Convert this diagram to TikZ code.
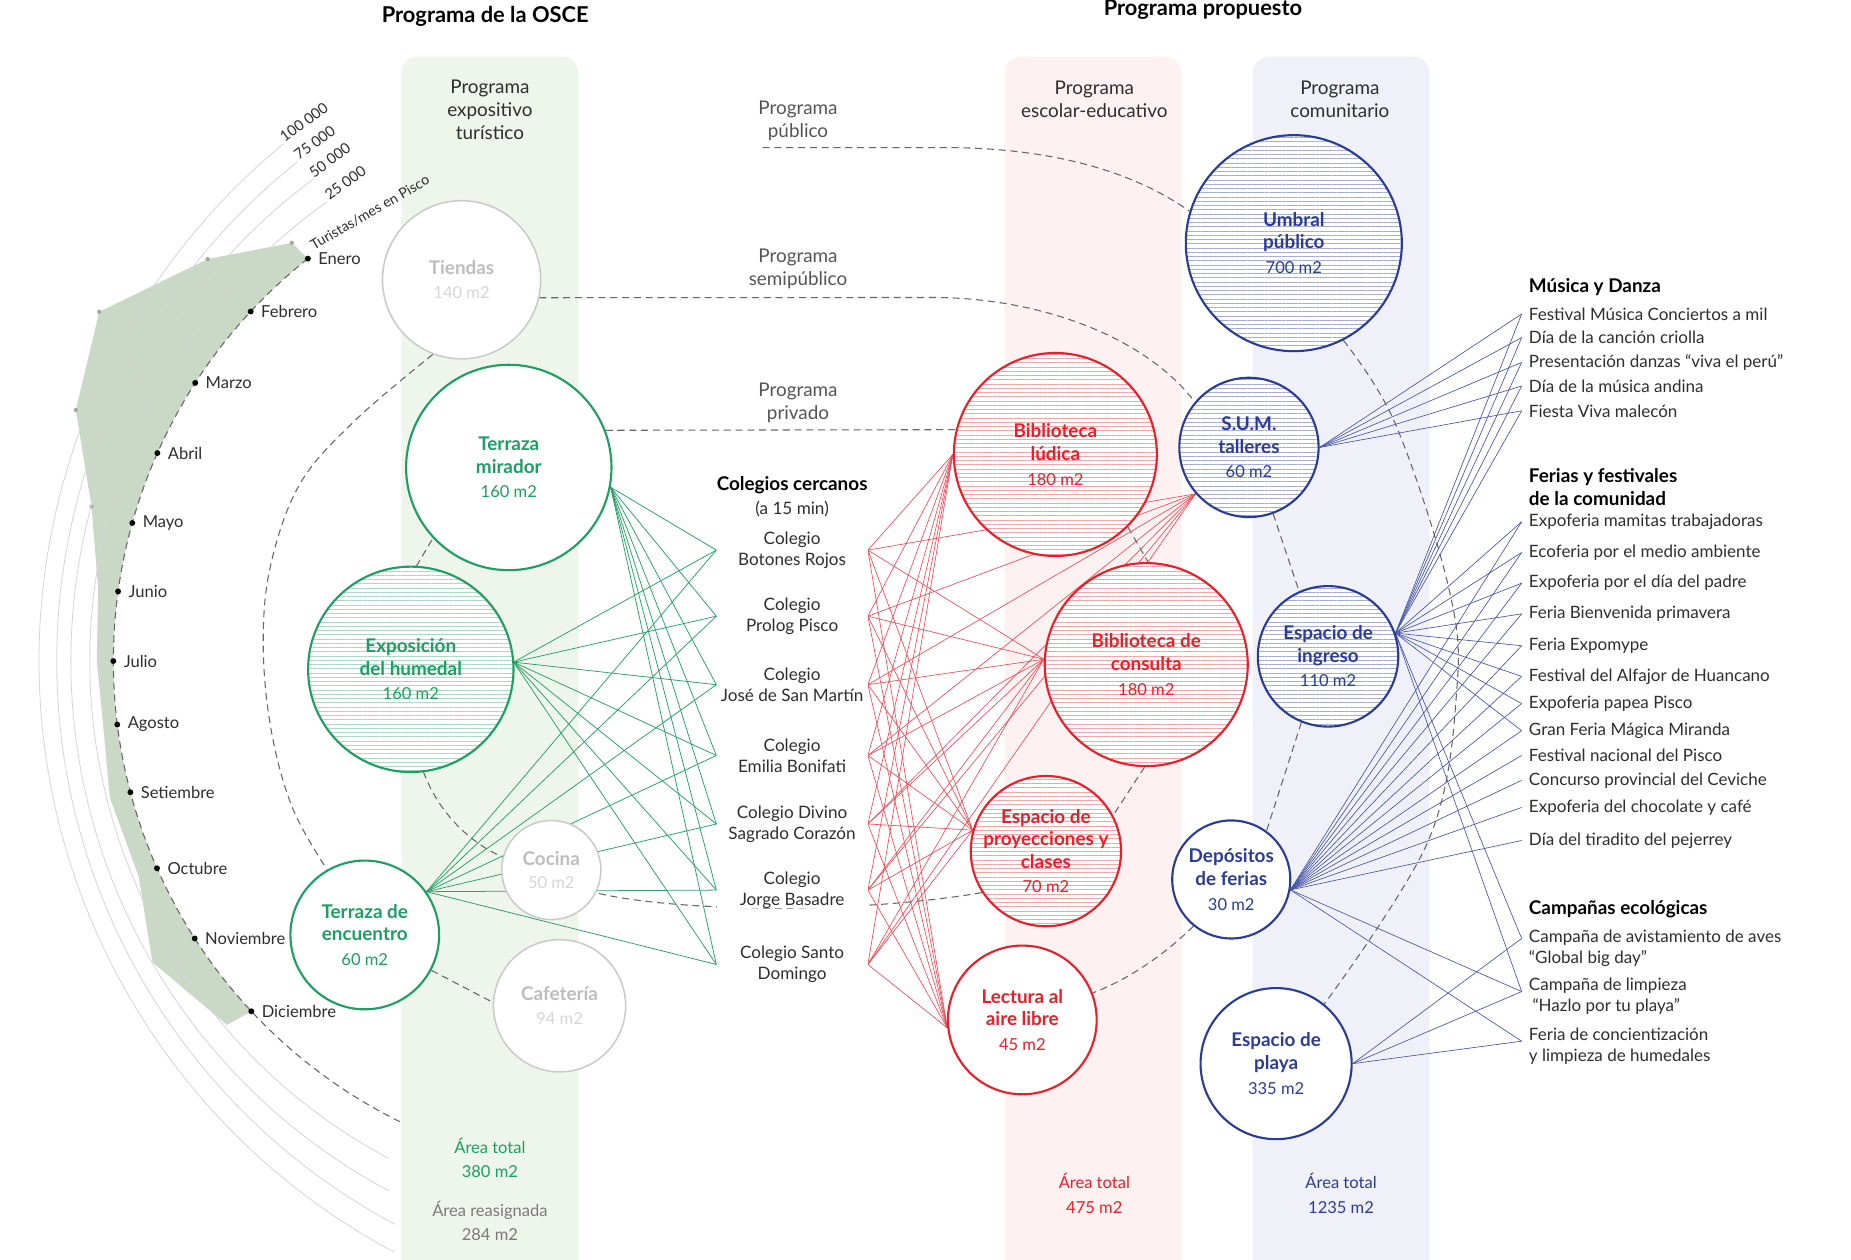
\documentclass[tikz,border=0pt]{standalone}
\usepackage{fontspec}
\setmainfont{Lato}
\usetikzlibrary{patterns.meta}
\definecolor{cgreen}{HTML}{1E9E62}
\definecolor{cred}{HTML}{E6202B}
\definecolor{cblue}{HTML}{2A3C94}
\definecolor{cgray}{HTML}{CACACA}
\definecolor{cgraytxt}{HTML}{BDBDBD}
\definecolor{cgraylt}{HTML}{D6D6D6}
\definecolor{bandg}{HTML}{EEF6EB}
\definecolor{bandr}{HTML}{FDF1F1}
\definecolor{bandb}{HTML}{F0F1F8}
\definecolor{sage}{HTML}{C9D9C6}
\definecolor{hg}{HTML}{ACD6BF}
\definecolor{hr}{HTML}{F4A2A6}
\definecolor{hb}{HTML}{A3ACD6}
\definecolor{txt}{HTML}{2E2E2E}
\definecolor{soft}{HTML}{555555}
\definecolor{ringc}{HTML}{666666}
\definecolor{arcc}{HTML}{D6D6D6}
\definecolor{vdotc}{HTML}{9DAA9B}
\definecolor{lg}{HTML}{2AA166}
\definecolor{lr}{HTML}{EC4A57}
\definecolor{lb}{HTML}{4454A4}
\definecolor{areagray}{HTML}{7A7A7A}
\pgfdeclarelayer{back}
\pgfdeclarelayer{mid}
\pgfsetlayers{back,mid,main}
\newcommand\rtitle[1]{{\bfseries\fontsize{16}{19}\selectfont #1}}
\tikzset{
  room/.style={circle, minimum size=#1, inner sep=0pt, line width=1.8pt, fill=white, align=center, font=\fontsize{14}{19}\selectfont},
  hatch/.style={preaction={fill=white}, pattern={Lines[angle=0,distance=3.6pt,line width=0.65pt]}, pattern color=#1},
  groom/.style={room=#1, draw=cgreen, text=cgreen},
  rroom/.style={room=#1, draw=cred, text=cred},
  broom/.style={room=#1, draw=cblue, text=cblue},
  kroom/.style={room=#1, draw=cgray, text=cgraytxt, line width=1.3pt},
  hdr/.style={align=center, inner sep=0pt, text=txt, font=\fontsize{16}{19.5}\selectfont},
  ttl/.style={inner sep=0pt, text=black, font=\bfseries\fontsize{18.5}{21}\selectfont},
  col/.style={align=center, inner sep=0pt, minimum width=128pt, fill=white, text=txt, font=\fontsize{14.5}{17.5}\selectfont},
  item/.style={anchor=west, inner xsep=6pt, inner ysep=0pt, align=left, text=txt, font=\fontsize{14.4}{18}\selectfont},
  lhead/.style={anchor=west, inner sep=0pt, align=left, text=black, font=\bfseries\fontsize{16}{19.5}\selectfont},
  month/.style={anchor=west, inner sep=0pt, xshift=6pt, text=txt, font=\fontsize{14}{16}\selectfont},
  mdot/.style={circle, fill=black, inner sep=0pt, minimum size=5pt},
  arclab/.style={anchor=base west, inner sep=0pt, text=txt, font=\fontsize{12.5}{14}\selectfont},
  ring/.style={draw=ringc, line width=0.9pt, dash pattern=on 6pt off 4pt},
  arcline/.style={draw=arcc, line width=0.7pt},
  gl/.style={draw=lg, line width=0.65pt},
  rl/.style={draw=lr, line width=0.55pt},
  bl/.style={draw=lb, line width=0.55pt},
}
\begin{document}
\begin{tikzpicture}[x=1pt,y=-1pt]
\useasboundingbox (0,0) rectangle (1568,1067);
\begin{pgfonlayer}{back}
\fill[white] (0,0) rectangle (1568,1067);
\fill[bandg, rounded corners=14pt] (340,48) rectangle (490,1090);
\fill[bandr, rounded corners=14pt] (851,48) rectangle (1001,1090);
\fill[bandb, rounded corners=14pt] (1061,48) rectangle (1211,1090);
\end{pgfonlayer}

% titles and headers
\node[ttl] (t1) at (411,14) {Programa de la OSCE};
\node[ttl] (t2) at (1019,8) {Programa propuesto};
\node[hdr] (hexp) at (415,93) {Programa\\expositivo\\turístico};
\node[hdr] (hesc) at (927,84) {Programa\\escolar-educativo};
\node[hdr] (hcom) at (1135,84) {Programa\\comunitario};
\node[hdr, text=soft] (lpub) at (676,102) {Programa\\público};
\node[hdr, text=soft] (lsemi) at (676,228) {Programa\\semipúblico};
\node[hdr, text=soft] (lpriv) at (676,341) {Programa\\privado};

% rooms
\node[kroom=134] (tiendas) at (391,237) {\rtitle{Tiendas}\\[1pt]\textcolor{cgraylt}{140 m2}};
\node[groom=174] (mirador) at (431,396) {\rtitle{Terraza}\\\rtitle{mirador}\\[2pt]160 m2};
\node[groom=174, hatch=hg] (humedal) at (348,567) {\rtitle{Exposición}\\\rtitle{del humedal}\\[2pt]160 m2};
\node[groom=126] (encuentro) at (309,792) {\rtitle{Terraza de}\\\rtitle{encuentro}\\[2pt]60 m2};
\node[kroom=84] (cocina) at (467,737) {\rtitle{Cocina}\\[1pt]\textcolor{cgraylt}{50 m2}};
\node[kroom=112] (cafeteria) at (474,852) {\rtitle{Cafetería}\\[1pt]\textcolor{cgraylt}{94 m2}};

\node[rroom=172, hatch=hr] (ludica) at (894,385) {\rtitle{Biblioteca}\\\rtitle{lúdica}\\[2pt]180 m2};
\node[rroom=172, hatch=hr] (consulta) at (971,563) {\rtitle{Biblioteca de}\\\rtitle{consulta}\\[2pt]180 m2};
\node[rroom=126, hatch=hr] (proyec) at (886,721) {\rtitle{Espacio de}\\\rtitle{proyecciones y}\\\rtitle{clases}\\[2pt]70 m2};
\node[rroom=126] (lectura) at (866,864) {\rtitle{Lectura al}\\\rtitle{aire libre}\\[2pt]45 m2};

\node[broom=183, hatch=hb] (umbral) at (1096,206) {\rtitle{Umbral}\\\rtitle{público}\\[2pt]700 m2};
\node[broom=118, hatch=hb] (sum) at (1058,379) {\rtitle{S.U.M.}\\\rtitle{talleres}\\[2pt]60 m2};
\node[broom=119, hatch=hb] (ingreso) at (1125,556) {\rtitle{Espacio de}\\\rtitle{ingreso}\\[2pt]110 m2};
\node[broom=100] (depositos) at (1043,745) {\rtitle{Depósitos}\\\rtitle{de ferias}\\[2pt]30 m2};
\node[broom=128] (playa) at (1081,901) {\rtitle{Espacio de}\\\rtitle{playa}\\[2pt]335 m2};

% colegios
\node[inner sep=0pt, text=black, font=\bfseries\fontsize{16}{19}\selectfont] (colh) at (671,411) {Colegios cercanos};
\node[hdr, font=\fontsize{14.5}{17}\selectfont] (colsub) at (671,431) {(a 15 min)};
\node[col] (c1) at (671,466) {Colegio\\Botones Rojos};
\node[col] (c2) at (671,522) {Colegio\\Prolog Pisco};
\node[col] (c3) at (671,580) {Colegio\\José de San Martín};
\node[col] (c4) at (671,640) {Colegio\\Emilia Bonifati};
\node[col] (c5) at (671,698) {Colegio Divino\\Sagrado Corazón};
\node[col] (c6) at (671,754) {Colegio\\Jorge Basadre};
\node[col] (c7) at (671,817) {Colegio Santo\\Domingo};

% right lists
\node[lhead] (hm) at (1295,243) {Música y Danza};
\node[item] (m1) at (1289,266) {Festival Música Conciertos a mil};
\node[item] (m2) at (1289,286) {Día de la canción criolla};
\node[item] (m3) at (1289,307) {Presentación danzas “viva el perú”};
\node[item] (m4) at (1289,327) {Día de la música andina};
\node[item] (m5) at (1289,348) {Fiesta Viva malecón};

\node[lhead] (hf) at (1295,412.5) {Ferias y festivales\\de la comunidad};
\node[item] (f1) at (1289,442) {Expoferia mamitas trabajadoras};
\node[item] (f2) at (1289,468) {Ecoferia por el medio ambiente};
\node[item] (f3) at (1289,494) {Expoferia por el día del padre};
\node[item] (f4) at (1289,520) {Feria Bienvenida primavera};
\node[item] (f5) at (1289,547) {Feria Expomype};
\node[item] (f6) at (1289,573) {Festival del Alfajor de Huancano};
\node[item] (f7) at (1289,596) {Expoferia papea Pisco};
\node[item] (f8) at (1289,619) {Gran Feria Mágica Miranda};
\node[item] (f9) at (1289,640) {Festival nacional del Pisco};
\node[item] (f10) at (1289,661) {Concurso provincial del Ceviche};
\node[item] (f11) at (1289,684) {Expoferia del chocolate y café};
\node[item] (f12) at (1289,712) {Día del tiradito del pejerrey};

\node[lhead] (hk) at (1295,770) {Campañas ecológicas};
\node[item] (k1) at (1289,803) {Campaña de avistamiento de aves\\“Global big day”};
\node[item] (k2) at (1289,844) {Campaña de limpieza\\\hspace{3pt}“Hazlo por tu playa”};
\node[item] (k3) at (1289,886) {Feria de concientización\\y limpieza de humedales};

% bottom areas
\node[hdr, text=cgreen, font=\fontsize{14}{20.5}\selectfont] (a1) at (415,981) {Área total\\380 m2};
\node[hdr, text=areagray, font=\fontsize{14}{20.5}\selectfont] (a2) at (415,1034) {Área reasignada\\284 m2};
\node[hdr, text=cred, font=\fontsize{14}{20.5}\selectfont] (a3) at (927,1011) {Área total\\475 m2};
\node[hdr, text=cblue, font=\fontsize{14}{20.5}\selectfont] (a4) at (1136,1011) {Área total\\1235 m2};

% months
\begin{scope}[shift={(531,560)}]
\foreach \a/\m [count=\i] in {128.4/Enero,137.1/Febrero,147.2/Marzo,156.1/Abril,164.4/Mayo,172.2/Junio,180/Julio,187.1/Agosto,194.8/Setiembre,203.8/Octubre,212.7/Noviembre,223/Diciembre}{
  \node[mdot] (md\i) at (-\a:435) {};
  \node[month] (ml\i) at (md\i.east) {\m};
}
\end{scope}
\node[arclab, rotate=36] (l25) at (279,170) {25 000};
\node[arclab, rotate=36] (l50) at (266,151) {50 000};
\node[arclab, rotate=36] (l75) at (253,136) {75 000};
\node[arclab, rotate=36] (l100) at (241,121) {100 000};
\node[arclab, rotate=30, font=\fontsize{12}{14}\selectfont] (ltur) at (266,212) {Turistas/mes en Pisco};
\coordinate (pubstart) at (646,125);

\begin{pgfonlayer}{mid}
% radial chart
\begin{scope}[shift={(531,560)}]
\fill[sage] (-128.4:435) -- (-128.7:454) -- (-136.2:492) -- (-146.5:536) -- (-155.5:513) -- (-163.9:472) -- (-172.2:452) -- (-180:449) -- (-187.1:447) -- (-194.8:453) -- (-203.8:452) -- (-212.4:476) -- (-222.3:458) -- (-223:435) -- plot[domain=223:128.4,samples=60,variable=\t] ({435*cos(\t)},{-435*sin(\t)}) -- cycle;
\foreach \a/\r in {128.7/454,136.2/492,146.5/536,155.5/513,163.9/472}
  \fill[vdotc] (-\a:\r) circle[radius=1.8pt];
\end{scope}
\draw[arcline] plot[domain=125.4:242,samples=100,variable=\t] ({553+477*cos(\t)},{560-477*sin(\t)});
\draw[arcline] plot[domain=126.6:242,samples=100,variable=\t] ({568.5+508.5*cos(\t)},{560-508.5*sin(\t)});
\draw[arcline] plot[domain=128.5:242,samples=100,variable=\t] ({588.5+540.5*cos(\t)},{560-540.5*sin(\t)});
\draw[arcline] plot[domain=129.4:242,samples=100,variable=\t] ({600+567*cos(\t)},{560-567*sin(\t)});
\draw[ring] plot[domain=128.4:244,samples=100,variable=\t] ({531+435*cos(\t)},{560-435*sin(\t)});

% rings
\draw[ring] (pubstart) -- (800,125) .. controls (890,125) and (960,145) .. (umbral.163);
\draw[ring] plot[smooth, tension=0.6] coordinates {(umbral.-63) (1182,359) (1227,497) (1234,585) (1210,712) (playa.51)};
\draw[ring] (tiendas.-13) -- (790,252) .. controls (880,252) and (970,285) .. (sum.140);
\draw[ring] (sum.-70) -- (ingreso.114);
\draw[ring] (ingreso.248) -- (depositos.54);
\draw[ring] (depositos.231) .. controls (985,810) and (955,830) .. (lectura.21);
\draw[ring] plot[smooth, tension=0.6] coordinates {(tiendas.249) (301,356) (254,410) (229,480) (223,548) (230,620) (248,685) (encuentro.120)};
\draw[ring] (encuentro.-28) -- (cafeteria.177);
\draw[ring] (mirador.21.5) -- (ludica.166);
\draw[ring] (ludica.-45) -- (consulta.89);
\draw[ring] (consulta.-91) -- (proyec.28);
\draw[ring] (proyec.213) .. controls (720,775) and (570,772) .. (cocina.-27);
\draw[ring] (humedal.-83) .. controls (372,690) and (400,715) .. (cocina.165);
\draw[ring] (humedal.87) -- (mirador.223);

% green and red links
\foreach \c in {c1,c2,c3,c4,c5,c6,c7}{
  \draw[gl] (mirador.-11) -- (\c.west);
  \draw[gl] (humedal.4) -- (\c.west);
  \draw[gl] (encuentro.35) -- (\c.west);
  \foreach \t in {ludica.180,consulta.177,sum.221,proyec.164,lectura.186}
    \draw[rl] (\c.east) -- (\t);
}
% blue links
\foreach \i in {1,...,5}{
  \draw[bl] (sum.0) -- (m\i.west);
  \draw[bl] (ingreso.19) -- (m\i.west);
}
\foreach \i in {1,...,8} \draw[bl] (ingreso.19) -- (f\i.west);
\foreach \i in {1,...,12} \draw[bl] (depositos.-10) -- (f\i.west);
\draw[bl] (ingreso.19) -- ([yshift=8pt]k1.west);
\draw[bl] (ingreso.19) -- ([yshift=4pt]k2.west);
\draw[bl] (depositos.-10) -- ([yshift=4pt]k2.west);
\draw[bl] (depositos.-10) -- ([yshift=4pt]k3.west);
\draw[bl] (playa.0) -- ([yshift=8pt]k1.west);
\draw[bl] (playa.0) -- ([yshift=4pt]k2.west);
\draw[bl] (playa.0) -- ([yshift=4pt]k3.west);
\end{pgfonlayer}
\end{tikzpicture}
\end{document}
